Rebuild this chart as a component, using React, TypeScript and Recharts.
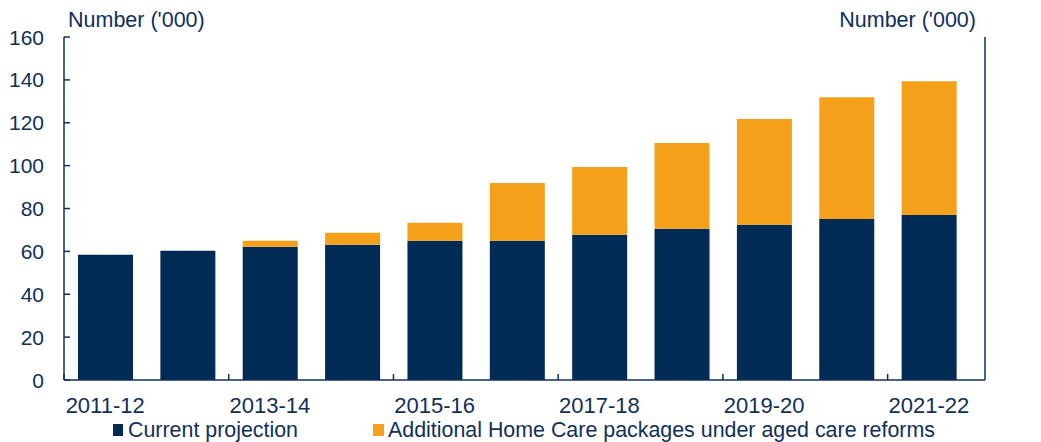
import React from "react";
import { BarChart, Bar, XAxis, YAxis } from "recharts";

const categories = [
  "2011-12", "2012-13", "2013-14", "2014-15", "2015-16", "2016-17",
  "2017-18", "2018-19", "2019-20", "2020-21", "2021-22",
];
const currentProjection = [58.4, 60.3, 62.1, 63.1, 65, 65, 67.8, 70.6, 72.4, 75.1, 77];
const additionalPackages = [0, 0, 2.9, 5.6, 8.4, 26.9, 31.6, 40, 49.4, 56.8, 62.4];
const yTicks = [0, 20, 40, 60, 80, 100, 120, 140, 160];

const NAVY = "#002b55";
const ORANGE = "#f5a01a";
const INK = "#10305a";
const FONT = "'Liberation Sans', Arial, sans-serif";

const W = 1041;
const H = 442;
const LEFT_W = 64;
const RIGHT_W = 56;
const PAD_RIGHT = 15;
const STEP = (W - LEFT_W - RIGHT_W - PAD_RIGHT) / categories.length;

const data = categories.map((c, i) => ({
  category: c,
  current: currentProjection[i],
  additional: additionalPackages[i],
}));

function LeftTick(props: any) {
  const { x, y, payload } = props;
  const axisX = x + 20;
  return (
    <g>
      <line x1={axisX} x2={axisX + 6} y1={y} y2={y} stroke={INK} strokeWidth={1.5} />
      <text x={x} y={y} textAnchor="end" dominantBaseline="central" fill={INK} fontSize={21} fontFamily={FONT}>
        {payload.value}
      </text>
    </g>
  );
}

function RightTick(props: any) {
  const { x, y, payload } = props;
  const axisX = x - 19;
  return (
    <g>
      <line x1={axisX - 6} x2={axisX} y1={y} y2={y} stroke={INK} strokeWidth={1.5} />
      <text x={x} y={y} textAnchor="start" dominantBaseline="central" fill={INK} fontSize={21} fontFamily={FONT}>
        {payload.value}
      </text>
    </g>
  );
}

function BottomTick(props: any) {
  const { x, y, payload } = props;
  const tx = x - STEP / 2;
  return (
    <g>
      <line x1={tx} x2={tx} y1={y} y2={y - 6} stroke={INK} strokeWidth={1.5} />
      <text x={x} y={y + 25} textAnchor="middle" dominantBaseline="central" fill={INK} fontSize={22} fontFamily={FONT}>
        {payload.value}
      </text>
    </g>
  );
}

export default function App() {
  return (
    <div style={{ position: "absolute", left: 0, top: 0, width: W, height: H, background: "#fff", fontFamily: FONT }}>
      <BarChart width={W} height={H} data={data} margin={{ top: 37, right: 0, bottom: 32, left: 0 }}>
        <XAxis
          dataKey="category"
          interval={1}
          height={30}
          tickLine={false}
          tickSize={0}
          tickMargin={0}
          padding={{ left: 0, right: PAD_RIGHT }}
          axisLine={{ stroke: INK, strokeWidth: 1.5 }}
          tick={<BottomTick />}
        />
        <YAxis
          yAxisId="left"
          width={LEFT_W}
          domain={[0, 160]}
          ticks={yTicks}
          interval={0}
          tickLine={false}
          tickSize={0}
          tickMargin={20}
          axisLine={{ stroke: INK, strokeWidth: 1.5 }}
          tick={<LeftTick />}
        />
        <YAxis
          yAxisId="right"
          orientation="right"
          width={RIGHT_W}
          domain={[0, 160]}
          ticks={yTicks}
          interval={0}
          tickLine={false}
          tickSize={0}
          tickMargin={19}
          axisLine={{ stroke: INK, strokeWidth: 1.5 }}
          tick={<RightTick />}
        />
        <Bar yAxisId="left" dataKey="current" name="Current projection" stackId="a" fill={NAVY} barSize={55} isAnimationActive={false} />
        <Bar yAxisId="left" dataKey="additional" name="Additional Home Care packages under aged care reforms" stackId="a" fill={ORANGE} barSize={55} isAnimationActive={false} />
      </BarChart>

      <div style={{ position: "absolute", left: 68, top: 8, fontSize: 21.5, color: INK, whiteSpace: "pre" }}>Number ('000)</div>
      <div style={{ position: "absolute", right: W - 976, top: 8, fontSize: 21.5, color: INK, whiteSpace: "pre" }}>Number ('000)</div>

      <div style={{ position: "absolute", left: 113, top: 418, display: "flex", alignItems: "center", fontSize: 21.4, color: INK, whiteSpace: "pre", lineHeight: "24px" }}>
        <span style={{ display: "inline-block", width: 10, height: 12, background: NAVY, marginRight: 5 }} />
        <span>Current projection</span>
        <span style={{ display: "inline-block", width: 11, height: 12, background: ORANGE, marginLeft: 75, marginRight: 4 }} />
        <span>Additional Home Care packages under aged care reforms</span>
      </div>
    </div>
  );
}
